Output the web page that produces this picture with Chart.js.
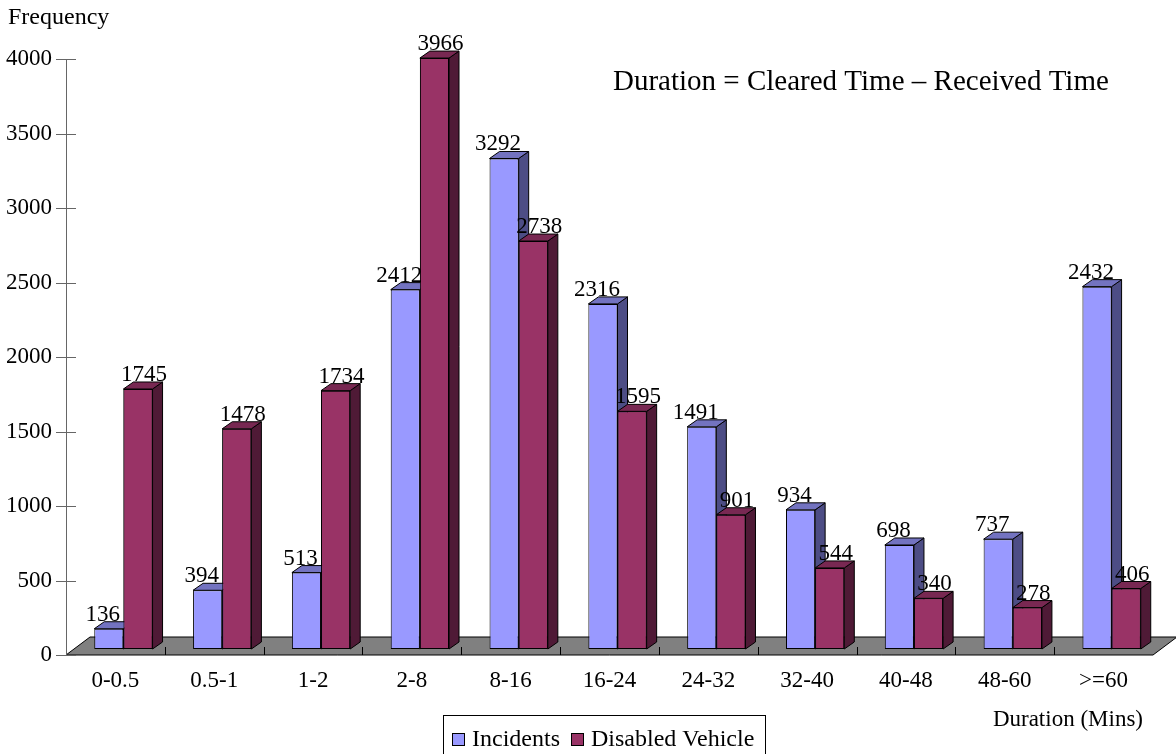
<!DOCTYPE html>
<html>
<head>
<meta charset="utf-8">
<script src="https://cdn.jsdelivr.net/npm/chart.js@4"></script>
<style>
  body { margin: 0; background: #fff; }
  canvas { display: block; }
</style>
</head>
<body>
<canvas id="durationChart" width="1176" height="754"></canvas>
<script>
const categories = ['0-0.5', '0.5-1', '1-2', '2-8', '8-16', '16-24', '24-32', '32-40', '40-48', '48-60', '>=60'];
const incidents = [136, 394, 513, 2412, 3292, 2316, 1491, 934, 698, 737, 2432];
const disabledVehicle = [1745, 1478, 1734, 3966, 2738, 1595, 901, 544, 340, 278, 406];
const yTicks = [0, 500, 1000, 1500, 2000, 2500, 3000, 3500, 4000];

const FONT = "'Liberation Serif', 'Times New Roman', serif";

// bars sit a bit back on the floor, depth of the bar faces
const shift = { x: 8, y: -6 };
const depth = { x: 10, y: -7 };
const floorDepth = { x: 24, y: -18 };
const labelNudge = [-6, 6];

const faceColors = [
  { top: '#7373c0', side: '#4d4d85' },
  { top: '#782852', side: '#4f1a36' }
];

function poly(ctx, pts, fill) {
  ctx.beginPath();
  ctx.moveTo(pts[0][0], pts[0][1]);
  for (let i = 1; i < pts.length; i++) ctx.lineTo(pts[i][0], pts[i][1]);
  ctx.closePath();
  ctx.fillStyle = fill;
  ctx.fill();
  ctx.stroke();
}

function drawFaces(ctx, bar, fc) {
  const { x, y, base, width } = bar.getProps(['x', 'y', 'base', 'width'], true);
  const l = x - width / 2, r = x + width / 2;
  poly(ctx, [[r, y], [r + depth.x, y + depth.y], [r + depth.x, base + depth.y], [r, base]], fc.side);
  poly(ctx, [[l, y], [l + depth.x, y + depth.y], [r + depth.x, y + depth.y], [r, y]], fc.top);
}

const threeD = {
  id: 'threeD',
  beforeDatasetsDraw(chart) {
    const { ctx, chartArea: a, scales } = chart;
    ctx.save();
    ctx.strokeStyle = '#000';
    ctx.lineWidth = 1;
    // floor
    poly(ctx, [
      [a.left, a.bottom],
      [a.left + floorDepth.x, a.bottom + floorDepth.y],
      [a.right + floorDepth.x, a.bottom + floorDepth.y],
      [a.right, a.bottom]
    ], '#808080');
    // category dividers
    const n = categories.length;
    const cw = (a.right - a.left) / n;
    ctx.beginPath();
    for (let i = 1; i < n; i++) {
      const x = Math.round(a.left + i * cw) + 0.5;
      ctx.moveTo(x, a.bottom - 8);
      ctx.lineTo(x, a.bottom);
    }
    ctx.stroke();
    // y axis + ticks
    ctx.strokeStyle = '#666';
    ctx.beginPath();
    ctx.moveTo(a.left + 0.5, a.top);
    ctx.lineTo(a.left + 0.5, a.bottom);
    yTicks.forEach(v => {
      const y = Math.round(scales.y.getPixelForValue(v)) + 0.5;
      ctx.moveTo(a.left - 10, y);
      ctx.lineTo(a.left + 10, y);
    });
    ctx.stroke();
    ctx.restore();
  },
  beforeDatasetDraw(chart) {
    chart.ctx.save();
    chart.ctx.translate(shift.x, shift.y);
  },
  afterDatasetDraw(chart) {
    chart.ctx.restore();
  },
  afterDatasetsDraw(chart) {
    const ctx = chart.ctx;
    // faces: incidents first, then disabled vehicle fronts again on top
    ctx.save();
    ctx.translate(shift.x, shift.y);
    ctx.strokeStyle = '#000';
    ctx.lineWidth = 1;
    chart.getDatasetMeta(0).data.forEach(bar => drawFaces(ctx, bar, faceColors[0]));
    chart.getDatasetMeta(1).data.forEach(bar => {
      bar.draw(ctx);
      ctx.strokeStyle = '#000';
      ctx.lineWidth = 1;
      drawFaces(ctx, bar, faceColors[1]);
    });
    ctx.restore();

    ctx.save();
    ctx.font = '23px ' + FONT;
    ctx.fillStyle = '#000';
    ctx.textAlign = 'center';
    ctx.textBaseline = 'alphabetic';
    chart.data.datasets.forEach((ds, i) => {
      chart.getDatasetMeta(i).data.forEach((bar, j) => {
        const x = bar.x + shift.x + labelNudge[i];
        const y = bar.y + shift.y + depth.y - 1;
        ctx.fillText(String(ds.data[j]), x, y);
      });
    });
    ctx.restore();
  },
  afterDraw(chart) {
    const ctx = chart.ctx;
    ctx.save();
    ctx.fillStyle = '#000';
    ctx.textBaseline = 'middle';
    ctx.font = '24px ' + FONT;
    ctx.textAlign = 'left';
    ctx.fillText('Frequency', 8, 18);
    ctx.font = '23px ' + FONT;
    ctx.textAlign = 'right';
    ctx.fillText('Duration (Mins)', 1143, 720);
    ctx.font = '29px ' + FONT;
    ctx.textAlign = 'left';
    ctx.fillText('Duration = Cleared Time \u2013 Received Time', 613, 82);

    // legend box
    ctx.strokeStyle = '#000';
    ctx.lineWidth = 1;
    ctx.strokeRect(443.5, 715.5, 322, 50);
    ctx.font = '24px ' + FONT;
    ctx.textAlign = 'left';
    const items = [
      { x: 452, label: chart.data.datasets[0].label, color: chart.data.datasets[0].backgroundColor },
      { x: 571, label: chart.data.datasets[1].label, color: chart.data.datasets[1].backgroundColor }
    ];
    items.forEach(it => {
      ctx.fillStyle = it.color;
      ctx.fillRect(it.x + 0.5, 733.5, 12, 12);
      ctx.strokeRect(it.x + 0.5, 733.5, 12, 12);
      ctx.fillStyle = '#000';
      ctx.fillText(it.label, it.x + 20, 740);
    });
    ctx.restore();
  }
};

const ctx = document.getElementById('durationChart').getContext('2d');
new Chart(ctx, {
  type: 'bar',
  data: {
    labels: categories,
    datasets: [
      {
        label: 'Incidents',
        data: incidents,
        backgroundColor: '#9999ff',
        borderColor: '#000',
        borderWidth: 1,
        borderSkipped: false,
        clip: false
      },
      {
        label: 'Disabled Vehicle',
        data: disabledVehicle,
        backgroundColor: '#993366',
        borderColor: '#000',
        borderWidth: 1,
        borderSkipped: false,
        clip: false
      }
    ]
  },
  options: {
    responsive: false,
    animation: false,
    categoryPercentage: 0.59,
    barPercentage: 1.0,
    layout: { padding: { top: 59, right: 23, left: 0, bottom: 0 } },
    plugins: {
      legend: { display: false },
      tooltip: { enabled: false }
    },
    scales: {
      x: {
        grid: { display: false, drawTicks: false },
        border: { display: false },
        ticks: { font: { family: FONT, size: 23 }, color: '#000', padding: 12, maxRotation: 0 },
        afterFit(s) { s.height = 99; }
      },
      y: {
        min: 0,
        max: 4000,
        grid: { display: false, drawTicks: false },
        border: { display: false },
        ticks: {
          stepSize: 500,
          font: { family: FONT, size: 23 },
          color: '#000',
          padding: 14,
          callback: v => String(v)
        },
        afterFit(s) { s.width = 66; }
      }
    }
  },
  plugins: [threeD]
});
</script>
</body>
</html>
